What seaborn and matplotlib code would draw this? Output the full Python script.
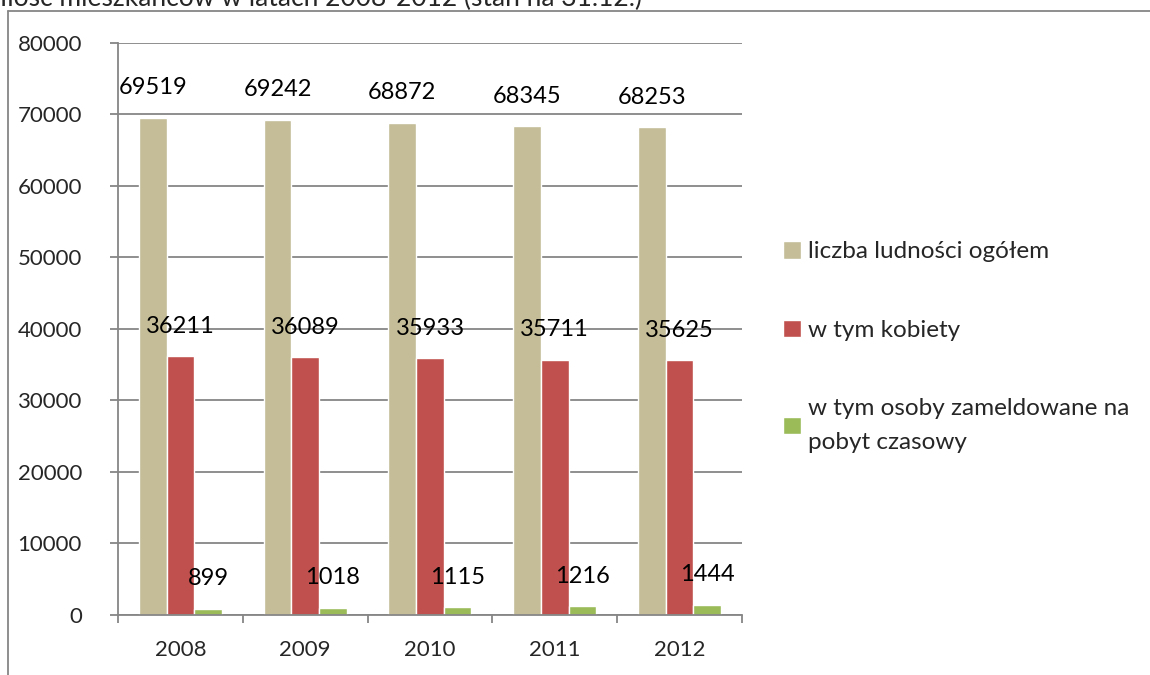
import matplotlib
matplotlib.use('Agg')
import matplotlib.pyplot as plt
import seaborn as sns
import pandas as pd
from matplotlib.lines import Line2D

# values
years = ['2008', '2009', '2010', '2011', '2012']
ogolem = [69519, 69242, 68872, 68345, 68253]
kobiety = [36211, 36089, 35933, 35711, 35625]
czasowy = [899, 1018, 1115, 1216, 1444]
series_names = ['liczba ludności ogółem', 'w tym kobiety',
                'w tym osoby zameldowane na\npobyt czasowy']
colors = ['#C4BD97', '#C0504D', '#9BBB59']
y_ticks = list(range(0, 80001, 10000))

df = pd.DataFrame({
    'rok': years * 3,
    'wartosc': ogolem + kobiety + czasowy,
    'seria': [series_names[0]] * 5 + [series_names[1]] * 5 + [series_names[2]] * 5,
})

sns.set_style('white')
plt.rcParams['font.family'] = ['Lato', 'DejaVu Sans']

fig = plt.figure(figsize=(11.5, 6.75), dpi=100)
ax = fig.add_axes([0.1026, 0.0889, 0.5426, 0.8474])

sns.barplot(data=df, x='rok', y='wartosc', hue='seria', palette=colors,
            width=0.665, gap=0, ax=ax, saturation=1, legend=True)

for cont in ax.containers:
    ax.bar_label(cont, fmt='%d', padding=14, fontsize=17, color='black')

grid_c = '#868686'
ax.set_ylim(0, 80000)
ax.set_xlim(-0.5, 4.5)
ax.set_yticks(y_ticks)
ax.set_yticklabels([str(v) for v in y_ticks])
ax.yaxis.grid(True, color=grid_c, linewidth=1.3)
ax.set_axisbelow(True)
ax.tick_params(axis='y', direction='out', length=6, width=1.3, color=grid_c,
               pad=20, labelsize=16, left=True)
ax.set_xticks(range(5))
ax.set_xticks([i - 0.5 for i in range(6)], minor=True)
ax.tick_params(axis='x', which='major', length=0, pad=18, labelsize=16)
ax.tick_params(axis='x', which='minor', direction='out', length=6, width=1.3,
               color=grid_c, bottom=True)
ax.set_xlabel('')
ax.set_ylabel('')
for side in ['top', 'right']:
    ax.spines[side].set_visible(False)
for side in ['left', 'bottom']:
    ax.spines[side].set_color(grid_c)
    ax.spines[side].set_linewidth(1.3)

leg = ax.legend(loc='upper left', bbox_to_anchor=(1.03, 0.692), frameon=False,
                fontsize=17.5, handlelength=0.75, handleheight=0.75,
                handletextpad=0.28, labelspacing=2.35)
for t in leg.get_texts():
    t.set_linespacing(1.75)

# outer chart frame and cut-off title
fig.add_artist(Line2D([8 / 1150, 1], [1 - 11 / 675, 1 - 11 / 675],
                      color=grid_c, linewidth=1.3))
fig.add_artist(Line2D([8 / 1150, 8 / 1150], [0, 1 - 11 / 675],
                      color=grid_c, linewidth=1.3))
fig.text(0.0, 1 - 6 / 675, 'Ilość mieszkańców w latach 2008-2012 (stan na 31.12.)',
         fontsize=19, va='baseline', ha='left')

fig.savefig('out.png', dpi=100)
